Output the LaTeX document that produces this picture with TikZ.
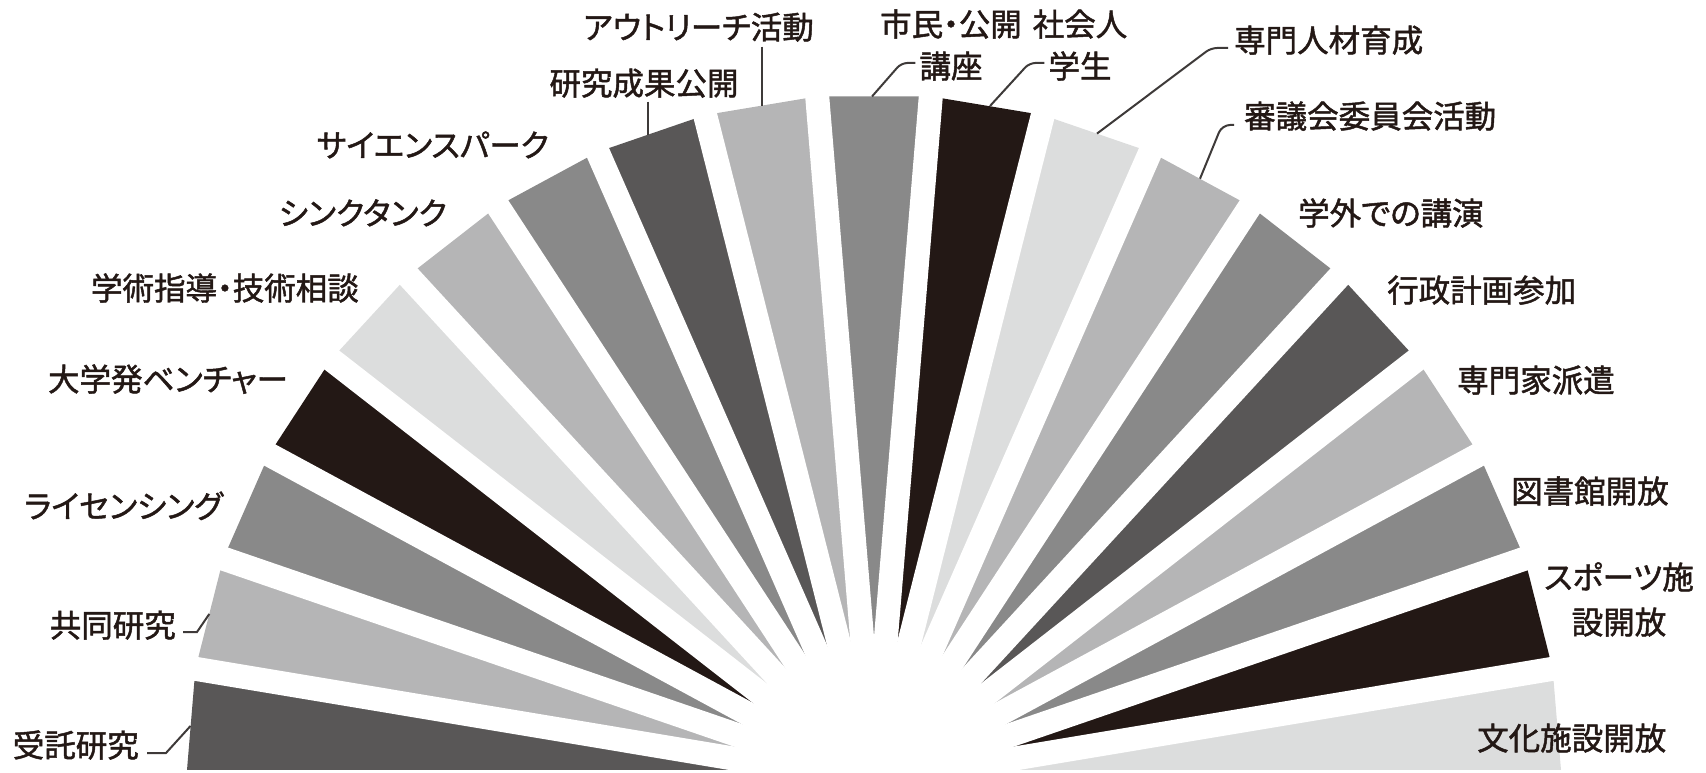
\documentclass[tikz,border=0pt]{standalone}
\usepackage{fontspec}
\newfontfamily\jp[RawFeature=+palt,FakeBold=1.5]{Noto Sans CJK JP}
\usetikzlibrary{calc}
\definecolor{cdark}{HTML}{595757}
\definecolor{clight}{HTML}{B5B5B6}
\definecolor{cmid}{HTML}{898989}
\definecolor{cblack}{HTML}{231815}
\definecolor{cvlight}{HTML}{DCDDDD}
\definecolor{txtcol}{HTML}{231815}
\definecolor{leadcol}{HTML}{3E3A39}
\tikzset{
  lab/.style={font=\jp\fontsize{31.5pt}{38pt}\selectfont, inner sep=0pt,
    text height=26.5pt, text depth=2.5pt, text=txtcol},
  leader/.style={draw=leadcol, line width=2pt},
  gapline/.style={draw=white, line width=24pt}
}
\begin{document}
\begin{tikzpicture}[x=1pt,y=-1pt]
\useasboundingbox (0,0) rectangle (1706,773);
\clip (0,0) rectangle (1706,773);
\def\cx{874}\def\cy{782}\def\R{688}
% wedges
\foreach \i/\c in {0/cdark,1/clight,2/cmid,3/cblack,4/cvlight,5/clight,6/cmid,
  7/cdark,8/clight,9/cmid,10/cblack,11/cvlight,12/clight,13/cmid,14/cdark,
  15/clight,16/cmid,17/cblack,18/cvlight}{
  \pgfmathsetmacro\aA{180-\i*180/19}
  \pgfmathsetmacro\aB{180-(\i+1)*180/19}
  \fill[\c] (\cx,\cy) -- ({\cx+\R*cos(\aA)},{\cy-\R*sin(\aA)})
    -- ({\cx+\R*cos(\aB)},{\cy-\R*sin(\aB)}) -- cycle;
}
% white separating strips
\foreach \k in {0,...,19}{
  \pgfmathsetmacro\a{180-\k*180/19}
  \draw[gapline] (\cx,\cy) -- ({\cx+(\R+20)*cos(\a)},{\cy-(\R+20)*sin(\a)});
}
% leader end points on wedges
\coordinate (e1) at (190.5,726);
\coordinate (e2) at (209.3,614);
\coordinate (e8) at (648,134.6);
\coordinate (e9) at (762,105.6);
\coordinate (e10) at (872,96.5);
\coordinate (e11) at (990,106);
\coordinate (e12) at (1097,133.6);
\coordinate (e13) at (1200,178.7);
% labels
\node[lab, anchor=east] (t1) at (139,745) {受託研究};
\node[lab, anchor=east] (t2) at (176,625) {共同研究};
\node[lab, anchor=east] (t3) at (223,506) {ライセンシング};
\node[lab, anchor=east] (t4) at (288,379) {大学発ベンチャー};
\node[lab, anchor=east] (t5) at (359,288) {学術指導・技術相談};
\node[lab, anchor=east] (t6) at (447,213) {シンクタンク};
\node[lab, anchor=east] (t7) at (549,145) {サイエンスパーク};
\node[lab] (t8) at (644,83) {研究成果公開};
\node[lab] (t9) at (698.5,27) {アウトリーチ活動};
\node[lab] (t10a) at (951,24) {市民・公開};
\node[lab] (t10b) at (951,66) {講座};
\node[lab] (t11a) at (1080,24) {社会人};
\node[lab] (t11b) at (1080,66) {学生};
\node[lab, anchor=west] (t12) at (1234,40) {専門人材育成};
\node[lab, anchor=west] (t13) at (1244,116) {審議会委員会活動};
\node[lab, anchor=west] (t14) at (1298,213) {学外での講演};
\node[lab, anchor=west] (t15) at (1387,290) {行政計画参加};
\node[lab, anchor=west] (t16) at (1457,380) {専門家派遣};
\node[lab, anchor=west] (t17) at (1511,491) {図書館開放};
\node[lab] (t18a) at (1619,577) {スポーツ施};
\node[lab] (t18b) at (1619,622) {設開放};
\node[lab, anchor=west] (t19) at (1477,738) {文化施設開放};
% leaders
\draw[leader] ($(t1.east)+(8,8)$) -- ++(19,0) -- (e1);
\draw[leader] ($(t2.east)+(7,7)$) -- ++(14,0) -- (e2);
\draw[leader] (t8.south -| e8) ++(0,4) -- (e8);
\draw[leader] (t9.south -| e9) ++(0,5) -- (e9);
\draw[leader, rounded corners=6pt] ($(t10b.west)+(-4,-3)$) -- ++(-14,0) -- (e10);
\draw[leader, rounded corners=6pt] ($(t11b.west)+(-4,-3)$) -- ++(-15,0) -- (e11);
\draw[leader, rounded corners=6pt] ($(t12.west)+(-6,8)$) -- ++(-17,0) -- (e12);
\draw[leader, rounded corners=8pt] ($(t13.west)+(-10,9)$) -- ++(-12,0) -- (e13);
\end{tikzpicture}
\end{document}
